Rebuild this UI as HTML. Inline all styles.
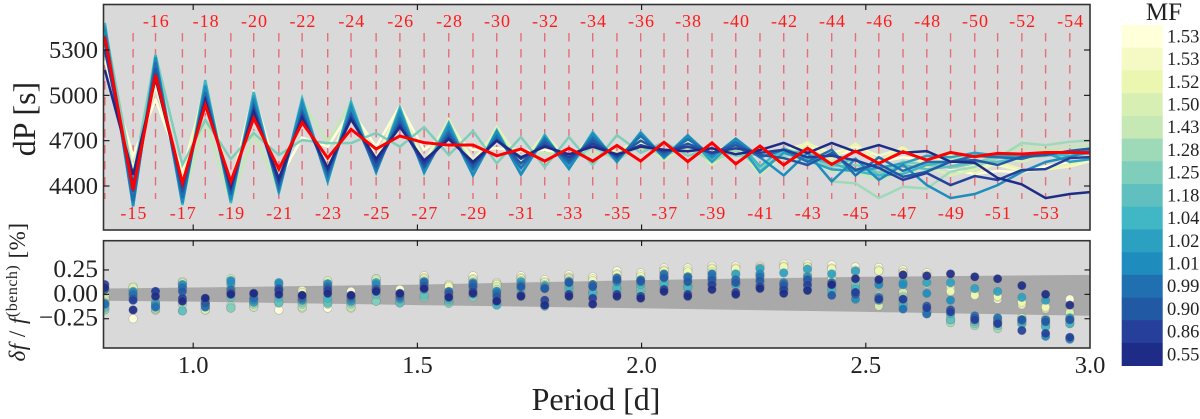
<!DOCTYPE html>
<html lang="en">
<head>
<meta charset="utf-8">
<title>Period spacing chart</title>
<style>
html,body{margin:0;padding:0;background:#fff;width:1200px;height:419px;overflow:hidden}
svg{display:block;font-family:"Liberation Serif",serif}
</style>
</head>
<body>
<svg id="chart" xmlns="http://www.w3.org/2000/svg" width="1200" height="419" viewBox="0 0 1200 419">
  <defs>
    <clipPath id="clip-top"><rect x="103.5" y="4.5" width="986.5" height="225.5"/></clipPath>
    <clipPath id="clip-bottom"><rect x="103.5" y="240.7" width="986.5" height="107.3"/></clipPath>
  </defs>
  <rect x="103.5" y="4.5" width="986.5" height="225.5" fill="#d9d9d9"/>
  <rect x="103.5" y="240.7" width="986.5" height="107.3" fill="#d9d9d9"/>
  <g id="bottom-band" clip-path="url(#clip-bottom)"></g>
  <g id="mode-dashes" clip-path="url(#clip-top)"></g>
  <g id="top-lines" clip-path="url(#clip-top)"></g>
  <g id="mode-labels"></g>
  <g id="bottom-dots" clip-path="url(#clip-bottom)"></g>
  <g id="axes"></g>
  <text transform="translate(35,119) rotate(-90)" text-anchor="middle" font-size="32" fill="#222">dP [s]</text>
  <text transform="translate(25,292) rotate(-90)" text-anchor="middle" font-size="23" letter-spacing="0.5" fill="#222"><tspan font-style="italic">δf</tspan> / <tspan font-style="italic">f</tspan><tspan font-size="16" dy="-8">(bench)</tspan><tspan dy="8"> [%]</tspan></text>
  <text x="596" y="410" text-anchor="middle" font-size="32" fill="#222">Period [d]</text>
  <g id="colorbar"></g>
  <text x="1164" y="20" text-anchor="middle" font-size="25" fill="#222">MF</text>
</svg>
<script>
// Mode radial orders and their periods (d)
const modes = [-14,-15,-16,-17,-18,-19,-20,-21,-22,-23,-24,-25,-26,-27,-28,-29,-30,-31,-32,-33,-34,-35,-36,-37,-38,-39,-40,-41,-42,-43,-44,-45,-46,-47,-48,-49,-50,-51,-52,-53,-54,-55];
const periods = [0.803,0.866,0.916,0.976,1.027,1.084,1.135,1.191,1.243,1.300,1.352,1.408,1.461,1.515,1.570,1.624,1.677,1.731,1.784,1.838,1.891,1.945,1.998,2.050,2.103,2.157,2.210,2.264,2.317,2.370,2.424,2.477,2.529,2.583,2.636,2.689,2.743,2.794,2.848,2.901,2.955,3.008];
const mfLabels = ['1.53','1.53','1.52','1.50','1.43','1.28','1.25','1.18','1.04','1.02','1.01','0.99','0.90','0.86','0.55'];
const xTicks = [1.0,1.5,2.0,2.5,3.0];
const dpTicks = [5300,5000,4700,4400];
const dfTicks = [0.25,0,-0.25];
const bandPeriods = [0.8,1.0,1.5,2.0,2.5,3.0];
const bandUpper = [0.06,0.07,0.10,0.146,0.18,0.20];
const bandLower = [-0.065,-0.075,-0.11,-0.143,-0.18,-0.22];

// Period spacing dP (s) per model, mode order -14 ... -55
const dp0 = [5230,4600,4970,4500,5040,4400,5015,4440,4720,4660,4900,4660,4930,4640,4760,4640,4650,4630,4640,4600,4680,4620,4690,4620,4700,4620,4690,4600,4620,4660,4600,4640,4560,4590,4570,4510,4480,4500,4490,4530,4560,4570];
const dp1 = [5300,4520,5060,4440,5080,4380,5000,4400,4900,4520,4940,4580,4920,4560,4830,4570,4760,4590,4690,4580,4700,4620,4720,4600,4720,4580,4720,4530,4640,4680,4620,4660,4600,4650,4570,4560,4530,4540,4500,4510,4530,4570];
const dp2 = [5340,4440,5190,4370,5100,4340,5010,4380,4940,4460,4950,4520,4930,4520,4840,4510,4790,4560,4740,4570,4740,4590,4740,4590,4730,4560,4700,4490,4600,4690,4580,4680,4560,4660,4520,4620,4480,4560,4510,4510,4540,4590];
const dp3 = [5400,4380,5240,4320,5090,4290,4990,4370,4970,4440,4950,4500,4900,4500,4830,4490,4780,4530,4730,4540,4720,4560,4700,4570,4690,4540,4660,4480,4600,4660,4560,4540,4520,4510,4530,4470,4510,4590,4560,4610,4610,4630];
const dp4 = [5420,4340,5250,4300,4840,4290,4750,4370,4960,4690,4960,4500,4900,4500,4780,4540,4700,4580,4620,4600,4610,4620,4650,4620,4640,4580,4620,4540,4580,4580,4500,4490,4440,4500,4480,4580,4590,4600,4660,4640,4660,4670];
const dp5 = [5440,4320,5230,4310,5040,4330,4960,4390,4940,4460,4920,4520,4880,4520,4810,4500,4720,4530,4690,4550,4660,4570,4670,4600,4660,4560,4640,4520,4600,4620,4430,4418,4320,4395,4383,4495,4527,4585,4685,4671,4693,4704];
const dp6 = [5460,4460,5270,4540,4837,4578,4750,4605,4704,4684,4684,4751,4660,4790,4605,4764,4550,4724,4525,4724,4539,4737,4620,4690,4600,4650,4600,4610,4640,4590,4530,4540,4490,4560,4540,4520,4550,4600,4600,4600,4620,4650];
const dp7 = [5470,4280,5260,4280,5090,4300,5020,4360,4960,4440,4950,4490,4920,4490,4800,4480,4760,4490,4720,4530,4740,4570,4740,4600,4720,4570,4690,4500,4630,4620,4540,4580,4470,4540,4510,4530,4560,4560,4590,4600,4620,4630];
const dp8 = [5479,4263,5267,4274,5101,4287,5022,4353,4980,4427,4958,4493,4920,4486,4820,4470,4770,4480,4740,4512,4757,4559,4757,4590,4737,4560,4710,4530,4650,4590,4550,4500,4470,4480,4540,4560,4600,4590,4610,4610,4600,4620];
const dp9 = [5460,4275,5255,4285,5070,4300,5000,4360,4960,4430,4940,4495,4900,4495,4810,4472,4760,4478,4730,4520,4750,4565,4750,4585,4730,4560,4710,4490,4620,4570,4510,4500,4520,4550,4600,4590,4620,4600,4590,4620,4560,4580];
const dp10 = [5440,4270,5250,4290,5060,4310,4980,4370,4950,4440,4920,4490,4890,4490,4790,4470,4760,4475,4720,4515,4745,4560,4750,4590,4735,4590,4715,4590,4470,4620,4430,4580,4440,4540,4406,4320,4347,4406,4493,4559,4592,4638];
const dp11 = [5400,4300,5220,4320,5020,4340,4940,4390,4900,4470,4880,4510,4850,4520,4760,4510,4730,4520,4710,4550,4720,4580,4730,4600,4710,4610,4690,4590,4640,4560,4640,4470,4590,4500,4560,4560,4600,4590,4580,4620,4620,4630];
const dp12 = [5350,4360,5180,4360,4990,4370,4920,4420,4880,4490,4870,4530,4820,4530,4740,4530,4710,4550,4690,4570,4700,4590,4700,4620,4680,4620,4670,4605,4585,4539,4618,4506,4546,4461,4495,4561,4572,4539,4594,4605,4633,4650];
const dp13 = [5300,4410,5140,4400,4970,4390,4900,4430,4860,4510,4850,4560,4800,4550,4720,4550,4700,4580,4670,4590,4680,4600,4670,4630,4660,4620,4650,4620,4640,4590,4600,4570,4520,4440,4486,4406,4466,4440,4506,4512,4585,4592];
const dp14 = [5168,4473,5110,4410,4960,4400,4890,4450,4850,4520,4840,4580,4790,4570,4710,4560,4700,4590,4660,4610,4660,4610,4660,4640,4630,4650,4610,4638,4686,4618,4685,4627,4671,4620,4631,4561,4554,4453,4411,4320,4347,4362];
const dpBenchmark = [5386,4373,5135,4420,4936,4430,4848,4512,4819,4585,4775,4645,4731,4687,4671,4671,4600,4645,4565,4650,4565,4669,4565,4689,4562,4686,4546,4665,4539,4650,4543,4631,4550,4627,4572,4622,4594,4616,4612,4622,4622,4620];

// Relative frequency difference (%) per model, mode order -14 ... -54
const df0 = [-.04,-.25,-.13,.1,-.16,-.14,-.11,-.16,.03,-.14,.03,.16,.05,.19,.1,.19,.12,.19,.15,.2,.18,.24,.22,.27,.27,.29,.29,.29,.31,.31,.3,.28,.275,.25,.22,.07,.01,-.05,-.11,-.15,-.05];
const df1 = [.03,.08,-.15,.12,-.15,.05,-.1,.04,.04,.12,-.1,.14,.01,.17,.09,.16,.11,.17,.13,.18,.16,.21,.2,.25,.25,.27,.27,.28,.29,.29,.27,.25,.25,.23,.2,.05,0,-.03,-.1,-.14,-.17];
const df2 = [-.02,.06,-.14,.11,-.14,.06,-.09,.05,.02,.13,-.09,.15,0,.16,.08,.15,.1,.16,.12,.17,.14,.2,.18,.24,.23,.26,.26,.27,.28,.28,.26,.23,.24,.22,.11,.03,-.01,-.02,-.08,-.13,-.18];
const df3 = [-.05,.07,-.16,.13,-.16,.07,-.13,.06,-.14,.14,-.14,.15,-.02,.14,-.07,.13,.08,.14,.1,.16,.02,.16,.08,.2,.1,.23,.2,.2,.09,.22,.16,.1,-.12,.02,-.14,-.22,-.24,-.25,-.24,-.25,-.19];
const df4 = [-.08,-.02,-.16,.12,-.12,.16,-.13,.02,-.13,.1,-.13,.16,-.08,.12,-.09,.1,.05,.12,.06,.14,.01,.13,.06,.17,.08,.18,.13,.14,.06,.19,.16,.08,-.01,-.02,-.17,-.26,-.3,-.33,-.24,-.27,-.25];
const df5 = [-.14,-.05,-.15,-.1,-.11,-.12,-.1,-.08,-.1,-.08,-.1,-.07,-.08,-.03,-.08,-.02,-.09,.02,-.08,.06,.02,.06,.06,.13,.08,.13,.12,.12,.05,.12,.08,.1,-.02,-.03,-.17,-.29,-.32,-.35,-.27,-.3,-.27];
const df6 = [-.16,-.03,-.11,-.17,-.1,-.14,-.08,-.09,-.08,-.1,-.08,-.07,-.09,-.03,-.09,-.03,-.1,-.02,-.1,.06,.02,.06,.05,.13,.08,.1,.12,.08,.03,.08,.05,.1,-.06,-.08,-.2,-.26,-.3,-.32,-.3,-.33,-.3];
const df7 = [-.13,0,-.1,-.17,-.08,-.03,-.05,-.08,-.06,-.08,-.06,0,-.08,-.01,-.07,0,-.1,0,-.12,.03,0,.04,.02,.1,.07,.1,.1,.07,.02,.06,.03,.07,-.05,-.1,-.19,-.26,-.28,-.3,-.28,-.32,-.45];
const df8 = [-.1,.02,-.08,-.05,-.1,.02,-.04,-.03,-.05,-.04,-.06,.06,-.05,.05,-.05,.07,-.11,.06,-.12,.08,.02,.07,.1,.1,.07,.12,.1,.1,.05,.06,.06,.05,-.06,-.12,-.18,-.2,-.26,-.28,-.3,-.33,-.3];
const df9 = [-.09,.03,-.1,.07,-.12,.11,-.08,.1,-.06,.09,-.07,.12,-.02,.12,-.02,.12,.03,.13,.09,.13,.1,.14,.13,.18,.18,.18,.21,.265,.22,.26,.21,.24,.11,.12,.12,.12,.06,.03,-.03,-.06,-.24];
const df10 = [-.1,.02,-.12,.1,-.1,.14,-.06,.12,-.05,.11,-.05,.1,-.04,.11,.02,.1,.03,.1,.07,.12,.08,.13,.15,.18,.18,.17,.15,.21,.12,.18,.11,-.05,.1,.1,.01,-.06,-.24,-.27,-.27,-.43,-.46];
const df11 = [-.1,0,-.13,.07,-.13,.05,-.04,.05,-.04,.08,-.03,.06,-.02,.13,.03,.11,.01,.08,.06,.13,.1,.17,.13,.21,.17,.21,.15,.18,.11,.15,.12,.02,-.03,-.15,-.2,-.16,-.22,-.24,-.26,-.26,-.26];
const df12 = [.05,-.04,.03,.03,-.09,.02,0,.06,-.02,.06,-.02,.05,0,.09,.01,.08,-.02,.08,.06,.12,.08,.15,.14,.17,.13,.15,.12,.14,.09,.15,-.01,0,-.05,-.05,-.12,-.16,-.24,-.29,-.26,-.28,-.26];
const df13 = [.1,-.06,.03,-.04,-.04,.01,.01,.04,-.01,.04,-.01,.04,0,.06,-.02,.03,-.06,-.01,-.06,0,-.04,0,-.02,.05,0,.1,.02,.08,.05,.1,.1,.02,-.05,-.05,-.14,-.18,-.26,-.3,-.37,-.4,-.44];
const df14 = [.07,-.16,-.02,-.07,-.04,0,.01,0,-.01,.01,-.01,.03,.01,.06,-.03,.01,-.07,-.02,-.11,-.02,-.1,-.02,-.04,.03,-.02,.05,0,.06,.01,.04,.1,.16,.15,.2,.19,.21,.18,.16,.09,0,-.11];

const dpSeries = [dp0,dp1,dp2,dp3,dp4,dp5,dp6,dp7,dp8,dp9,dp10,dp11,dp12,dp13,dp14];
const dfSeries = [df0,df1,df2,df3,df4,df5,df6,df7,df8,df9,df10,df11,df12,df13,df14];
const palette = ['#ffffd9','#f5f9c3','#ebf7b1','#d7efb3','#c5e8b5','#9fdab8','#7fcdbb','#5fc0bf','#41b6c4','#2ca0c0','#1e8dbe','#2070b1','#2259a5','#253f9b','#1f2c87'];

const NS = 'http://www.w3.org/2000/svg';
function make(tag, attrs, parent) {
  const el = document.createElementNS(NS, tag);
  for (const k in attrs) el.setAttribute(k, attrs[k]);
  parent.appendChild(el);
  return el;
}
function xScale(p) { return 103.5 + (p - 0.8) / 2.2 * 986.5; }
function yTop(v) { return 230 - (v - 4109) / 1492 * 225.5; }
function yBottom(v) { return 348 - (v + 0.55) / 1.1 * 107.3; }

// Uncertainty band
(function () {
  const g = document.getElementById('bottom-band');
  const upper = bandPeriods.map((p, i) => xScale(p) + ',' + yBottom(bandUpper[i]));
  const lower = bandPeriods.map((p, i) => xScale(p) + ',' + yBottom(bandLower[i])).reverse();
  const band = make('polygon', { points: upper.concat(lower).join(' '), fill: '#a9a9a9' }, g);
  
  
})();

// Mode guides and labels
(function () {
  const dashes = document.getElementById('mode-dashes');
  const labels = document.getElementById('mode-labels');
  modes.forEach((m, i) => {
    if (m === -55) return;
    const x = xScale(periods[i]);
    const line = make('line', { x1: x, x2: x, y1: 33, y2: 199, stroke: '#ee3344', 'stroke-opacity': 0.65, 'stroke-width': 1.4, 'stroke-dasharray': '8.5 7.5' }, dashes);
    
    
    if (m === -14) return;
    const isEven = m % 2 === 0;
    const t = make('text', { x: x + 0.8, y: isEven ? 27 : 219, 'text-anchor': 'middle', 'font-size': 18, 'letter-spacing': 1, fill: '#ff1a1a' }, labels);
    
    
    t.textContent = String(m);
  });
})();

// Period spacing lines
(function () {
  const g = document.getElementById('top-lines');
  dpSeries.forEach((s, k) => {
    const pts = s.map((v, i) => xScale(periods[i]) + ',' + yTop(v)).join(' ');
    const l = make('polyline', { points: pts, fill: 'none', stroke: palette[k], 'stroke-width': 2.5, 'stroke-linejoin': 'miter' }, g);
    
    
  });
  const pts = dpBenchmark.map((v, i) => xScale(periods[i]) + ',' + yTop(v)).join(' ');
  const red = make('polyline', { points: pts, fill: 'none', stroke: '#ff0000', 'stroke-width': 3 }, g);
  
  
})();

// Frequency difference dots
(function () {
  const g = document.getElementById('bottom-dots');
  dfSeries.forEach((s, k) => {
    s.forEach((v, i) => {
      const c = make('circle', { cx: xScale(periods[i]), cy: yBottom(v), r: 4.3, fill: palette[k], 'fill-opacity': 0.93, stroke: '#777', 'stroke-opacity': 0.45, 'stroke-width': 0.6 }, g);
      
      
    });
  });
})();

// Axes
(function () {
  const g = document.getElementById('axes');
  function frame(x, y, w, h, name) {
    const r = make('rect', { x: x, y: y, width: w, height: h, fill: 'none', stroke: '#333', 'stroke-width': 1.6 }, g);
    
    
  }
  frame(103.5, 4.5, 986.5, 225.5, 'top-panel-frame');
  frame(103.5, 240.7, 986.5, 107.3, 'bottom-panel-frame');
  function tick(x1, y1, x2, y2) {
    const t = make('line', { x1: x1, y1: y1, x2: x2, y2: y2, stroke: '#111', 'stroke-width': 1.1 }, g);
    
    
  }
  xTicks.forEach(p => {
    const x = xScale(p);
    if (p < 3) {
      tick(x, 4.5, x, 10); tick(x, 230, x, 224.5);
      tick(x, 240.7, x, 246); tick(x, 348, x, 342.7);
    }
    const t = make('text', { x: p === 3 ? 1090 : x, y: 373, 'text-anchor': 'middle', 'font-size': 24.5, fill: '#222' }, g);
    
    
    t.textContent = p.toFixed(1);
  });
  dpTicks.forEach(v => {
    const y = yTop(v);
    tick(103.5, y, 109.5, y); tick(1090, y, 1084, y);
    const t = make('text', { x: 98, y: y + 8, 'text-anchor': 'end', 'font-size': 24.5, fill: '#222' }, g);
    
    
    t.textContent = String(v);
  });
  dfTicks.forEach(v => {
    const y = yBottom(v);
    tick(103.5, y, 109, y); tick(1090, y, 1084.5, y);
    const t = make('text', { x: 98, y: y + 7, 'text-anchor': 'end', 'font-size': 25.5, fill: '#222' }, g);
    
    
    t.textContent = (v < 0 ? '\u2212' : '') + Math.abs(v).toFixed(2);
  });
})();

// Colorbar
(function () {
  const g = document.getElementById('colorbar');
  const cellH = (365.7 - 25) / mfLabels.length;
  mfLabels.forEach((lab, i) => {
    const y = 25 + i * cellH;
    const r = make('rect', { x: 1121.7, y: y, width: 41, height: cellH + 0.3, fill: palette[i] }, g);
    
    
    const t = make('text', { x: 1167, y: y + cellH / 2 + 6, 'font-size': 18.5, fill: '#222' }, g);
    
    
    t.textContent = lab;
  });
})();
</script>
</body>
</html>
